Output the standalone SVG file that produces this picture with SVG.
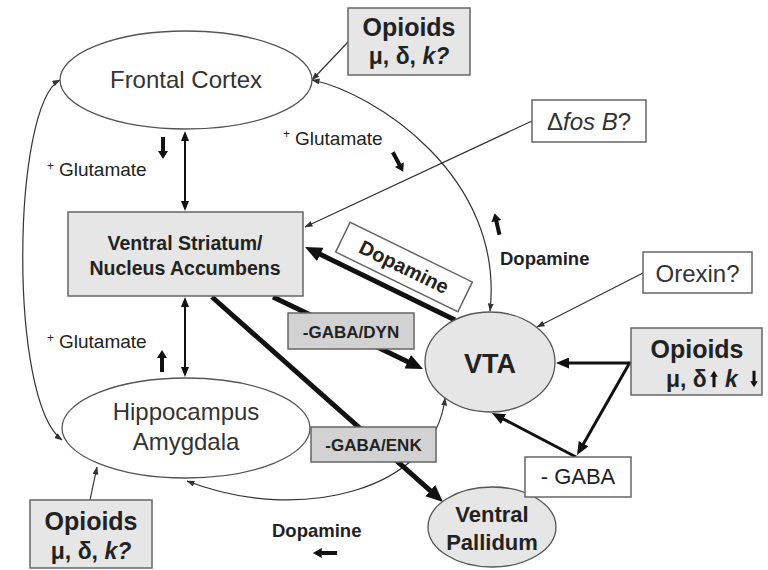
<svg xmlns="http://www.w3.org/2000/svg" width="768" height="570" viewBox="0 0 768 570">
<defs>
<style>
.t{font-family:"Liberation Sans",Arial,sans-serif;fill:#222}
.c{text-anchor:middle}
.b{font-weight:bold}
.i{font-style:italic}
.ell{fill:#fff;stroke:#555;stroke-width:1.3}
.gell{fill:#e6e6e6;stroke:#555;stroke-width:1.3}
.box{fill:#e6e6e6;stroke:#666;stroke-width:1.5}
.dbox{fill:#d2d2d2;stroke:#666;stroke-width:1.5}
.wbox{fill:#fff;stroke:#666;stroke-width:1.5}
.thin{fill:none;stroke:#333;stroke-width:1.2}
.mid{fill:none;stroke:#111;stroke-width:2}
.med{fill:none;stroke:#111;stroke-width:3}
.thk{fill:none;stroke:#111;stroke-width:5}
.blk{fill:#111}
</style>
<marker id="aThin" viewBox="0 0 8 6" refX="7.5" refY="3" markerWidth="8" markerHeight="6" markerUnits="userSpaceOnUse" orient="auto-start-reverse"><path d="M0,0 L8,3 L0,6 z" fill="#333"/></marker>
<marker id="aMid" viewBox="0 0 10 8" refX="2" refY="4" markerWidth="10" markerHeight="8" markerUnits="userSpaceOnUse" orient="auto-start-reverse"><path d="M0,0 L10,4 L0,8 z" fill="#111"/></marker>
<marker id="aMed" viewBox="0 0 13 11" refX="2" refY="5.5" markerWidth="13" markerHeight="11" markerUnits="userSpaceOnUse" orient="auto-start-reverse"><path d="M0,0 L13,5.5 L0,11 z" fill="#111"/></marker>
<marker id="aThk" viewBox="0 0 17 15" refX="3" refY="7.5" markerWidth="17" markerHeight="15" markerUnits="userSpaceOnUse" orient="auto-start-reverse"><path d="M0,0 L17,7.5 L0,15 z" fill="#111"/></marker>
<path id="ba" d="M-2,11 V-3 H-5 L0,-11 L5,-3 H2 V11 Z"/>
</defs>

<g id="connectors">
  <path class="thin" d="M60,80 C12,105 8,400 62,440" marker-start="url(#aThin)" marker-end="url(#aThin)"/>
  <path class="thin" d="M312,80 C372,92 505,175 490,311" marker-start="url(#aThin)" marker-end="url(#aThin)"/>
  <path class="thin" d="M187,481 C300,525 435,490 445,398" marker-start="url(#aThin)" marker-end="url(#aThin)"/>
  <line class="thin" x1="532" y1="121" x2="305" y2="227" marker-end="url(#aThin)"/>
  <line class="thin" x1="643" y1="273" x2="537" y2="327" marker-end="url(#aThin)"/>
  <line class="thin" x1="348" y1="42" x2="312" y2="80" marker-end="url(#aThin)"/>
  <line class="thin" x1="90" y1="500" x2="97" y2="467" marker-end="url(#aThin)"/>
  <line class="mid" x1="185" y1="139" x2="185" y2="203" marker-start="url(#aMid)" marker-end="url(#aMid)"/>
  <line class="mid" x1="185" y1="305" x2="185" y2="369" marker-start="url(#aMid)" marker-end="url(#aMid)"/>
  <line class="med" x1="631" y1="363" x2="567" y2="363" marker-end="url(#aMed)"/>
  <line class="med" x1="629" y1="364" x2="582.5" y2="445.5" marker-end="url(#aMed)"/>
  <line class="med" x1="576" y1="457" x2="501.7" y2="418.1" marker-end="url(#aMed)"/>
  <line class="thk" x1="455" y1="320" x2="317.6" y2="253.1" marker-end="url(#aThk)"/>
  <line class="thk" x1="273" y1="297" x2="410.4" y2="362.9" marker-end="url(#aThk)"/>
  <line class="thk" x1="212" y1="297" x2="432.5" y2="492.7" marker-end="url(#aThk)"/>
</g>

<g id="frontal-cortex">
  <ellipse class="ell" cx="186" cy="80" rx="126" ry="49"/>
  <text class="t c" x="186" y="88" font-size="24" style="fill:#333">Frontal Cortex</text>
</g>
<g id="ventral-striatum">
  <rect class="box" x="68" y="212" width="235" height="84"/>
  <text class="t c b" x="185" y="250" font-size="19.5">Ventral Striatum/</text>
  <text class="t c b" x="185" y="275" font-size="19.5">Nucleus Accumbens</text>
</g>
<g id="hippocampus">
  <ellipse class="ell" cx="186" cy="428" rx="124" ry="50"/>
  <text class="t c" x="186" y="420" font-size="24" style="fill:#333">Hippocampus</text>
  <text class="t c" x="186" y="450" font-size="24" style="fill:#333">Amygdala</text>
</g>
<g id="vta">
  <ellipse class="gell" cx="490" cy="362" rx="65" ry="50"/>
  <text class="t c b" x="490" y="373" font-size="27">VTA</text>
</g>
<g id="ventral-pallidum">
  <ellipse class="gell" cx="492" cy="527" rx="64" ry="40"/>
  <text class="t c b" x="492" y="522" font-size="22">Ventral</text>
  <text class="t c b" x="492" y="550" font-size="22">Pallidum</text>
</g>
<g id="opioids-top">
  <rect class="box" x="348" y="8" width="122" height="67"/>
  <text class="t c b" x="409" y="36" font-size="25">Opioids</text>
  <text class="t c b" x="409" y="64" font-size="23">μ, δ, <tspan class="i">k?</tspan></text>
</g>
<g id="opioids-bottom">
  <rect class="box" x="30" y="500" width="122" height="68"/>
  <text class="t c b" x="91" y="530" font-size="25">Opioids</text>
  <text class="t c b" x="91" y="559" font-size="23">μ, δ, <tspan class="i">k?</tspan></text>
</g>
<g id="opioids-right">
  <rect class="box" x="631" y="328" width="131" height="67"/>
  <text class="t c b" x="697" y="358" font-size="25">Opioids</text>
  <text class="t b" x="666" y="387" font-size="23">μ, δ</text>
  <use href="#ba" class="blk" transform="translate(714,379) scale(0.75)"/>
  <text class="t b i" x="725" y="387" font-size="23">k</text>
  <use href="#ba" class="blk" transform="translate(754,379) rotate(180) scale(0.75)"/>
</g>
<g id="fosb">
  <rect class="wbox" x="532" y="100" width="114" height="42"/>
  <text class="t c" x="589" y="130" font-size="24" style="fill:#333">Δ<tspan class="i">fos B</tspan>?</text>
</g>
<g id="orexin">
  <rect class="wbox" x="643" y="252" width="109" height="41"/>
  <text class="t c" x="697.5" y="282" font-size="24" style="fill:#333">Orexin?</text>
</g>
<g id="gaba">
  <rect class="wbox" x="525" y="457" width="106" height="40"/>
  <text class="t c" x="578" y="484" font-size="22">- GABA</text>
</g>
<g id="gaba-dyn">
  <rect class="dbox" x="288" y="313" width="126" height="36"/>
  <text class="t c b" x="351" y="338" font-size="17">-GABA/DYN</text>
</g>
<g id="gaba-enk">
  <rect class="dbox" x="311" y="427" width="125" height="35"/>
  <text class="t c b" x="373.5" y="451" font-size="17">-GABA/ENK</text>
</g>
<g id="dopamine-box" transform="translate(404,267) rotate(26)">
  <rect class="wbox" x="-68" y="-16.5" width="136" height="33"/>
  <text class="t c b" x="0" y="7" font-size="20">Dopamine</text>
</g>

<g id="labels">
  <text class="t" x="47" y="170" font-size="12">+</text>
  <text class="t" x="59" y="176" font-size="19">Glutamate</text>
  <use href="#ba" class="blk" transform="translate(163,148) rotate(180)"/>
  <text class="t" x="47" y="342" font-size="12">+</text>
  <text class="t" x="59" y="348" font-size="19">Glutamate</text>
  <use href="#ba" class="blk" transform="translate(162,361)"/>
  <text class="t" x="283" y="138" font-size="12">+</text>
  <text class="t" x="295" y="145" font-size="19">Glutamate</text>
  <use href="#ba" class="blk" transform="translate(398,162) rotate(152)"/>
  <text class="t b" x="500" y="265" font-size="18.5">Dopamine</text>
  <use href="#ba" class="blk" transform="translate(497,224) rotate(-13)"/>
  <text class="t b" x="272" y="537" font-size="18.5">Dopamine</text>
  <use href="#ba" class="blk" transform="translate(325,553) rotate(-90) scale(1,1.1)"/>
</g>
</svg>
